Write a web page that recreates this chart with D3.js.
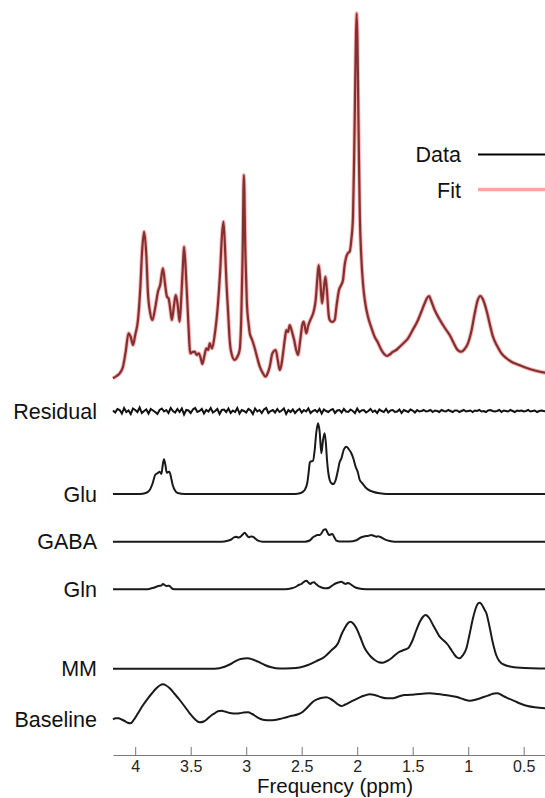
<!DOCTYPE html>
<html>
<head>
<meta charset="utf-8">
<script src="https://cdn.jsdelivr.net/npm/d3@7"></script>
<style>
  body { margin: 0; background: #fff; }
  svg { display: block; font-family: "Liberation Sans", Arial, sans-serif; }
</style>
</head>
<body>
<script>
// spectrum (data + fit overlap), a.u.
const mainPpm = [4.2,4.167,4.14,4.11,4.086,4.06,4.04,4.02,4.0,3.975,
  3.955,3.937,3.92,3.9,3.885,3.865,3.845,3.82,3.795,3.775,
  3.75,3.73,3.714,3.7,3.683,3.67,3.65,3.635,3.617,3.6,
  3.586,3.57,3.56,3.54,3.524,3.503,3.482,3.464,3.446,3.428,
  3.41,3.395,3.377,3.359,3.342,3.329,3.308,3.284,3.254,3.234,
  3.218,3.205,3.19,3.177,3.164,3.149,3.133,3.104,3.081,3.059,
  3.045,3.033,3.021,3.008,2.995,2.977,2.968,2.946,2.923,2.9,
  2.878,2.851,2.827,2.806,2.788,2.764,2.734,2.716,2.698,2.683,
  2.668,2.653,2.638,2.623,2.608,2.584,2.568,2.55,2.533,2.513,
  2.495,2.482,2.458,2.44,2.422,2.389,2.374,2.36,2.347,2.333,
  2.317,2.302,2.286,2.27,2.257,2.248,2.225,2.203,2.185,2.164,
  2.144,2.128,2.113,2.098,2.083,2.068,2.053,2.038,2.028,2.02,
  2.012,2.005,1.998,1.991,1.984,1.976,1.964,1.948,1.929,1.903,
  1.874,1.843,1.816,1.782,1.757,1.732,1.707,1.677,1.649,1.617,
  1.581,1.542,1.5,1.452,1.423,1.392,1.371,1.353,1.333,1.302,
  1.265,1.227,1.198,1.167,1.135,1.106,1.083,1.061,1.032,1.002,
  0.973,0.941,0.914,0.89,0.865,0.836,0.806,0.777,0.739,0.701,
  0.658,0.611,0.554,0.491,0.4,0.31,0.2];
const mainData = [1.7,4,6.7,13.3,28,46.7,43,35,45,60,
  90,130,148.3,125,86.7,67,60,72,88.3,95,
  111.7,95,83.3,81.7,70,60,75,85,75,58.3,
  80,115,133.3,100,63.3,26.7,28,28.3,25,26.7,
  22,16,24,31.7,30,36.7,31.7,45,76.7,110,
  145,158.3,130,95,70,40,26.7,20,23,30,
  60,120,205,130,80,55,46.7,40,31.7,22,
  13.3,7,3.3,7,13.3,26.7,30,20,10,15,
  26.7,40,50,48,55,46.7,40,30,25,40,
  55,58.3,46.7,55,60,70,80,100,115,100,
  76.7,90,103.3,85,65,60,58,60,75,90,
  95,100,115,123.3,127,128.3,140,163.3,220,280,
  340,366.7,340,280,220,163.3,125,96.7,78,63.3,
  53,43.3,38,30,26,24,25.5,28.3,30,33.3,
  37,41.7,50,60,68,76.7,82,84,79,70,
  62,55,50,45,38,31.7,29,28.3,31,36.7,
  48,66.7,80,84,80,70,56,43.3,34,26.7,
  22,18.3,15.5,12.7,9.5,7.3,6];
const mainFit = mainData;

// residual, sampled every 0.02 ppm from 4.2
const residStart = 4.2, residStep = 0.02;
const residual = [0.5,-1.5,2,1,-2.5,3,-1,0.5,-3,2.5,1,-1,3.5,-2,0,1.5,-2.5,2,0.5,-1,
  -3,1,2.5,-0.5,1,-2,3,0,-1.5,2,-1,2.5,-3.5,1,0.5,-2,1.5,3,-1,0,
  2,-2.5,1,-0.5,3,-1.5,0,2,-3,1,1.5,-1,2.5,-2,0.5,-1,3,-2.5,1,0,
  -1.5,2,0.5,-3,2.5,-0.5,1,-2,1.5,3,-2,0,1,-1.5,2,-1,0.5,2.5,-3,1,
  -1,1.5,-2,0.5,2,-1.5,1,-0.5,2.5,-2,0,1,-1,2,-2.5,1.5,0,-1,1,2,
  -2,0.5,1,-1.5,2,-0.5,-1,1.5,0,-2,2.5,-1,0.5,1,-1.5,0,2,-1,0.5,-2,
  1.5,0,-1,2,-1.5,0.5,1,-1,-0.5,1.5,-2,1,0,-1,1.5,0.5,-1.5,1,-0.5,0,
  1,-0.5,0,1,-1,0.5,0,-1,1,0,-0.5,1,0,-1,0.5,0.5,-1,0,1,-0.5,
  0,0.5,-1,0.5,0,1,-0.5,0,-1,0.5,1,0,-0.5,0,1,-1,0.5,0,-0.5,1,
  0,-1,0.5,0,0.5,-0.5,0,1,-0.5,0,0.5,-1,0,0.5,0,-0.5,1,0,-0.5,0.5,0];

const gluPpm = [4.2,3.959,3.905,3.869,3.842,3.82,3.8,3.779,3.764,3.752,3.741,3.728,3.716,3.703,3.692,3.676,3.662,3.644,3.617,3.554,
  2.563,2.509,2.473,2.45,2.437,2.428,2.423,2.398,2.383,2.369,2.353,2.338,2.323,2.308,2.293,2.281,2.272,2.26,2.248,2.23,2.212,
  2.194,2.173,2.158,2.142,2.122,2.098,2.077,2.053,2.036,2.014,1.995,1.977,1.953,1.917,1.887,1.858,1.797,1.737,0.2];
const gluAmp = [0,0,1,4,11,19,20.7,22.3,20,29,34.7,29,21.3,22,22.3,16,9,4,1,0,
  0,1,4,11,22,31,32.3,33.3,44,61,70.7,62,40.7,54,60.7,49,34,21,14,10.5,10,
  14,24,32,35.7,44,47.3,45,40.7,36,27.3,22,14,10.7,5.7,3.5,2.3,0.7,0,0];

const gabaPpm = [4.2,3.221,3.167,3.133,3.113,3.088,3.072,3.059,3.036,3.014,2.996,2.977,2.959,2.939,2.919,2.894,2.851,
  2.473,2.428,2.398,2.378,2.359,2.338,2.32,2.302,2.284,2.268,2.254,2.239,2.223,2.205,2.187,2.158,
  2.068,2.014,1.962,1.917,1.896,1.872,1.851,1.827,1.811,1.797,1.752,1.707,1.662,0.2];
const gabaAmp = [0,0,1,2.4,4.2,5,4.2,4.4,6.7,9,6.7,4.4,5.2,5,3.2,1,0,
  0,1.2,4.4,5.7,6.7,6.7,8.7,11.9,12.4,9.2,6.7,7.2,7.7,4.2,1,0.2,
  0.2,1.2,4.4,5.7,5.9,6.7,5.9,5,5.4,5,2.4,0.7,0,0];

const glnPpm = [4.2,3.905,3.854,3.809,3.793,3.779,3.764,3.75,3.734,3.719,3.707,3.695,3.677,3.659,3.617,
  2.653,2.59,2.548,2.527,2.503,2.482,2.458,2.44,2.422,2.406,2.389,2.371,2.353,2.338,2.308,2.278,
  2.248,2.218,2.185,2.162,2.142,2.122,2.104,2.088,2.074,2.056,2.038,2.014,1.993,1.917,0.2];
const glnAmp = [0,0,1,2.6,3.3,3.6,3.8,5.3,4.3,3.3,3.6,3.6,1.8,0.3,0,
  0,1,2.8,4.3,5.3,7.3,8.6,6.8,5.3,6.6,7,5.3,3.6,2.6,1.3,1,
  1.8,4.3,6.3,7,7.6,6.3,5.3,6.3,6,4.8,3.3,1.8,1,0,0];

const mmPpm = [4.2,3.284,3.194,3.149,3.104,3.05,2.989,2.941,2.894,2.833,2.773,2.698,2.593,2.518,2.443,2.365,2.293,2.23,2.173,
  2.14,2.113,2.086,2.061,2.036,2.007,1.973,1.932,1.887,1.842,1.806,1.768,1.73,1.692,1.653,1.617,1.581,1.542,
  1.504,1.467,1.432,1.405,1.383,1.351,1.317,1.284,1.257,1.221,1.182,1.149,1.122,1.1,1.077,1.05,1.016,
  0.991,0.957,0.928,0.91,0.896,0.878,0.856,0.836,0.811,0.777,0.748,0.716,0.671,0.611,0.491,0.31,0.2];
const mmAmp = [0,0,2,4.2,7,9.7,10.4,9.2,7,3.7,1.4,0.2,0.4,1.2,3.7,7.7,12,18.7,25.4,
  34.7,40.4,45.2,47,45.2,40.4,31.7,20.4,13.2,8.7,6.5,6,7.7,10.4,14.2,17,18.7,20.4,
  27.7,38.7,47.7,52.2,53.7,50.7,43.7,37.2,32,28.2,23.7,18.2,13.7,11.2,10.4,13.2,20.4,
  32.7,50.4,61.7,65.4,66,64.2,59.7,55.4,43.7,25.4,13.7,7,3.7,2,0.7,0.2,0];

const basePpm = [4.2,4.176,4.149,4.122,4.095,4.068,4.041,4.014,3.975,3.932,3.885,3.847,3.809,3.779,3.75,3.721,3.689,
  3.644,3.599,3.554,3.509,3.464,3.419,3.383,3.344,3.315,3.284,3.254,3.223,3.185,3.133,3.095,3.059,3.023,2.984,
  2.946,2.908,2.869,2.833,2.788,2.743,2.698,2.653,2.599,2.533,2.5,2.473,2.441,2.413,2.383,2.353,2.315,2.278,
  2.239,2.203,2.171,2.142,2.108,2.068,2.023,1.977,1.932,1.887,1.842,1.782,1.734,1.677,1.626,1.572,1.518,1.467,
  1.41,1.347,1.279,1.212,1.153,1.092,1.041,0.986,0.928,0.867,0.806,0.766,0.737,0.707,0.676,0.641,0.581,0.521,
  0.464,0.4,0.31,0.2];
const baseAmp = [0,1,1,-0.2,-1.7,-3.5,-4,-0.7,6,13.8,21,26.3,31,33.8,35,33.8,31,
  25.3,19.3,12.8,6,0.3,-3,-2.2,1,3.8,6,8.1,8.6,7.5,6,5.8,6,6.8,7,
  5.3,2.6,0.3,-0.7,-0.9,-0.7,0.3,1.6,3.3,5,6.8,9.3,12.8,16,18.8,20.3,21.5,22,
  20.3,17.6,14.8,13.3,14.8,17,19.5,22,23.8,25,24.3,22,21,21,22.8,24.3,24.5,25,
  25.5,26,25.3,24.3,23.3,22,20,18.6,19.8,22,24.3,25.8,26,24.8,22.8,21,18.1,15.3,
  13.3,12,11,10.5];

const tickValues = [4, 3.5, 3, 2.5, 2, 1.5, 1, 0.5];

const width = 545;
const height = 798;
const font = "'Liberation Sans', Arial, sans-serif";
const labelSize = 21.5;

const svg = d3.select("body").append("svg")
  .attr("width", width).attr("height", height);

const x = d3.scaleLinear().domain([4.2, 0.2]).range([113, 557]);

// one amplitude scale per row, same gain everywhere
const rowScale = base => d3.scaleLinear().domain([0, 100]).range([base, base - 100]);

function trace(ppm, vals, base, curve) {
  const y = rowScale(base);
  return d3.line()
    .x(d => x(d[0]))
    .y(d => y(d[1]))
    .curve(curve)(d3.zip(ppm, vals));
}

// main spectrum: data (black) under a translucent fit (red)
svg.append("path")
  .attr("d", trace(mainPpm, mainData, 380, d3.curveMonotoneX))
  .attr("fill", "none").attr("stroke", "#000").attr("stroke-width", 2.2);
svg.append("path")
  .attr("d", trace(mainPpm, mainFit, 380, d3.curveMonotoneX))
  .attr("fill", "none").attr("stroke", "#ff6464").attr("stroke-opacity", 0.5)
  .attr("stroke-width", 4).attr("stroke-linejoin", "round");

// residual
const residPpm = residual.map((d, i) => residStart - i * residStep);
svg.append("path")
  .attr("d", trace(residPpm, residual, 411, d3.curveLinear))
  .attr("fill", "none").attr("stroke", "#111").attr("stroke-width", 2);

const rows = [
  { label: "Glu", ppm: gluPpm, amp: gluAmp, base: 494 },
  { label: "GABA", ppm: gabaPpm, amp: gabaAmp, base: 541.7 },
  { label: "Gln", ppm: glnPpm, amp: glnAmp, base: 589.3 },
  { label: "MM", ppm: mmPpm, amp: mmAmp, base: 668.7 },
  { label: "Baseline", ppm: basePpm, amp: baseAmp, base: 719.3 }
];

rows.forEach(r => {
  svg.append("path")
    .attr("d", trace(r.ppm, r.amp, r.base, d3.curveMonotoneX))
    .attr("fill", "none").attr("stroke", "#1a1a1a").attr("stroke-width", 2);
});

// row labels
const labels = [{ t: "Residual", y: 411 }].concat(rows.map(r => ({ t: r.label, y: r.base })));
svg.selectAll(".rowlabel")
  .data(labels)
  .enter()
  .append("text")
  .attr("class", "rowlabel")
  .attr("x", 97)
  .attr("y", d => d.y + 7.5)
  .attr("text-anchor", "end")
  .attr("font-size", labelSize)
  .attr("fill", "#111")
  .text(d => d.t);

// legend
const legend = svg.append("g");
legend.append("text").attr("x", 461).attr("y", 162).attr("text-anchor", "end")
  .attr("font-size", labelSize).attr("fill", "#111").text("Data");
legend.append("line").attr("x1", 478).attr("x2", 550).attr("y1", 154.5).attr("y2", 154.5)
  .attr("stroke", "#000").attr("stroke-width", 1.8);
legend.append("text").attr("x", 461).attr("y", 198).attr("text-anchor", "end")
  .attr("font-size", labelSize).attr("fill", "#111").text("Fit");
legend.append("line").attr("x1", 478).attr("x2", 550).attr("y1", 189.5).attr("y2", 189.5)
  .attr("stroke", "#ff6464").attr("stroke-opacity", 0.6).attr("stroke-width", 3.6);

// x axis, ticks pointing up
const axis = svg.append("g")
  .attr("transform", "translate(0,755)")
  .call(d3.axisBottom(x)
    .tickValues(tickValues)
    .tickFormat(d3.format("~g"))
    .tickSize(-8)
    .tickSizeOuter(0)
    .tickPadding(6));
axis.attr("font-family", font).attr("font-size", 16);
axis.select(".domain").attr("stroke", "#777");
axis.selectAll(".tick line").attr("stroke", "#777");
axis.selectAll(".tick text").attr("fill", "#222");

svg.append("text")
  .attr("x", x(2.2))
  .attr("y", 793)
  .attr("text-anchor", "middle")
  .attr("font-size", 20.5)
  .attr("fill", "#111")
  .text("Frequency (ppm)");
</script>
</body>
</html>
